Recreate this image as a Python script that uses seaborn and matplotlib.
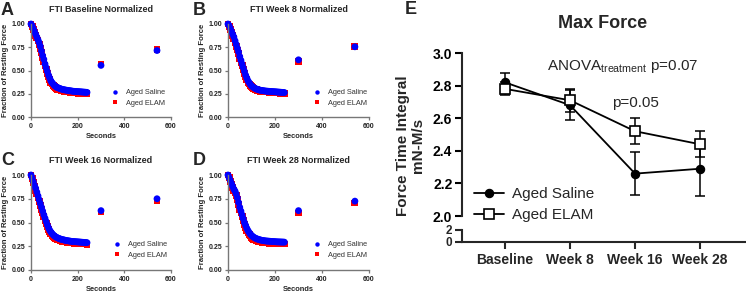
import pandas as pd
import matplotlib
matplotlib.use('Agg')
import matplotlib.pyplot as plt
import seaborn as sns

# ---- normalized FTI curves (panels A-D), sampled every 5 s ----
seconds = list(range(0, 245, 5))
recovery_seconds = [300, 540]
groups = ['Aged Saline', 'Aged ELAM']

saline_base = [1.00, 0.98, 0.95, 0.92, 0.89, 0.86, 0.83, 0.80, 0.76, 0.71, 0.66, 0.62, 0.57, 0.53, 0.49,
               0.45, 0.42, 0.39, 0.37, 0.355, 0.34, 0.33, 0.32, 0.315, 0.31, 0.305, 0.30, 0.297, 0.294,
               0.291, 0.289, 0.287, 0.285, 0.283, 0.281, 0.279, 0.277, 0.276, 0.275, 0.274, 0.273, 0.272,
               0.271, 0.270, 0.269, 0.268, 0.267, 0.266, 0.265]
elam_base = [1.00, 0.97, 0.94, 0.91, 0.88, 0.85, 0.82, 0.78, 0.74, 0.69, 0.64, 0.60, 0.55, 0.51, 0.47,
             0.43, 0.40, 0.375, 0.355, 0.34, 0.325, 0.315, 0.305, 0.30, 0.295, 0.29, 0.286, 0.282, 0.279,
             0.276, 0.274, 0.272, 0.270, 0.268, 0.266, 0.264, 0.262, 0.261, 0.260, 0.259, 0.258, 0.257,
             0.256, 0.255, 0.254, 0.253, 0.252, 0.251, 0.250]
saline_base_rec = [0.555, 0.715]
elam_base_rec = [0.57, 0.725]

saline_w8 = [1.00, 0.98, 0.95, 0.92, 0.89, 0.86, 0.82, 0.78, 0.74, 0.70, 0.65, 0.61, 0.57, 0.53, 0.49,
             0.45, 0.42, 0.39, 0.37, 0.35, 0.335, 0.325, 0.315, 0.308, 0.302, 0.297, 0.293, 0.290, 0.287,
             0.285, 0.283, 0.281, 0.279, 0.278, 0.277, 0.276, 0.275, 0.274, 0.273, 0.272, 0.271, 0.270,
             0.269, 0.268, 0.267, 0.266, 0.265, 0.264, 0.263]
elam_w8 = [1.00, 0.97, 0.94, 0.91, 0.88, 0.84, 0.80, 0.76, 0.72, 0.68, 0.63, 0.59, 0.55, 0.51, 0.47,
           0.43, 0.40, 0.375, 0.355, 0.34, 0.325, 0.315, 0.306, 0.299, 0.293, 0.288, 0.284, 0.281, 0.278,
           0.276, 0.274, 0.272, 0.270, 0.269, 0.268, 0.267, 0.266, 0.265, 0.264, 0.263, 0.262, 0.261,
           0.260, 0.259, 0.258, 0.257, 0.256, 0.255, 0.254]
saline_w8_rec = [0.615, 0.755]
elam_w8_rec = [0.595, 0.755]

saline_w16 = [1.00, 0.97, 0.93, 0.89, 0.86, 0.82, 0.78, 0.74, 0.70, 0.66, 0.62, 0.58, 0.545, 0.51, 0.475,
              0.445, 0.42, 0.40, 0.385, 0.37, 0.36, 0.35, 0.343, 0.337, 0.332, 0.327, 0.323, 0.320, 0.317,
              0.314, 0.311, 0.309, 0.307, 0.305, 0.303, 0.301, 0.300, 0.299, 0.298, 0.297, 0.296, 0.295,
              0.294, 0.293, 0.292, 0.291, 0.290, 0.289, 0.288]
elam_w16 = [1.00, 0.96, 0.92, 0.88, 0.84, 0.80, 0.76, 0.72, 0.68, 0.64, 0.60, 0.56, 0.525, 0.49, 0.455,
            0.425, 0.40, 0.38, 0.365, 0.352, 0.342, 0.334, 0.327, 0.321, 0.316, 0.311, 0.307, 0.304, 0.301,
            0.298, 0.295, 0.293, 0.291, 0.289, 0.287, 0.285, 0.284, 0.283, 0.282, 0.281, 0.280, 0.279,
            0.278, 0.277, 0.276, 0.275, 0.274, 0.273, 0.272]
saline_w16_rec = [0.625, 0.75]
elam_w16_rec = [0.61, 0.73]

saline_w28 = [1.00, 0.97, 0.94, 0.91, 0.88, 0.85, 0.83, 0.80, 0.76, 0.71, 0.66, 0.62, 0.58, 0.54, 0.50,
              0.47, 0.44, 0.415, 0.395, 0.378, 0.364, 0.353, 0.344, 0.337, 0.331, 0.326, 0.322, 0.318, 0.315,
              0.312, 0.310, 0.308, 0.306, 0.305, 0.304, 0.303, 0.302, 0.301, 0.300, 0.299, 0.298, 0.297,
              0.296, 0.296, 0.295, 0.295, 0.294, 0.294, 0.293]
elam_w28 = [1.00, 0.97, 0.93, 0.90, 0.87, 0.84, 0.81, 0.78, 0.74, 0.69, 0.64, 0.60, 0.56, 0.52, 0.48,
            0.45, 0.42, 0.395, 0.375, 0.358, 0.344, 0.333, 0.324, 0.317, 0.311, 0.306, 0.302, 0.298, 0.295,
            0.292, 0.290, 0.288, 0.286, 0.285, 0.284, 0.283, 0.282, 0.281, 0.280, 0.279, 0.278, 0.277,
            0.276, 0.276, 0.275, 0.275, 0.274, 0.274, 0.273]
saline_w28_rec = [0.625, 0.725]
elam_w28_rec = [0.60, 0.705]

# ---- max force FTI (panel E) ----
timepoints = ['Baseline', 'Week 8', 'Week 16', 'Week 28']
force_saline = [2.82, 2.68, 2.26, 2.29]
force_saline_err = [0.06, 0.09, 0.13, 0.17]
force_elam = [2.78, 2.71, 2.52, 2.44]
force_elam_err = [0.04, 0.07, 0.08, 0.08]

W, H = 746, 294
sns.set_style('ticks')
plt.rcParams['font.family'] = ['Liberation Sans', 'DejaVu Sans']
plt.rcParams['mathtext.fontset'] = 'custom'
plt.rcParams['mathtext.rm'] = 'Liberation Sans'
plt.rcParams['mathtext.it'] = 'Liberation Sans:italic'
plt.rcParams['mathtext.bf'] = 'Liberation Sans:bold'

fig = plt.figure(figsize=(W / 100, H / 100), dpi=100)


def px_axes(left, top, width, height):
    return fig.add_axes([left / W, (H - top - height) / H, width / W, height / H])


def normalized_panel(ax, title, saline, elam, saline_rec, elam_rec, leg_x, leg_y):
    # ELAM rows first so the saline points end up on top
    df = pd.DataFrame({
        'Seconds': seconds + recovery_seconds + seconds + recovery_seconds,
        'Fraction': elam + elam_rec + saline + saline_rec,
        'group': ['Aged ELAM'] * (len(seconds) + 2) + ['Aged Saline'] * (len(seconds) + 2),
    })
    sns.scatterplot(data=df, x='Seconds', y='Fraction', hue='group', style='group',
                    hue_order=groups, style_order=groups,
                    palette={'Aged Saline': '#0000ff', 'Aged ELAM': '#ff0000'},
                    markers={'Aged Saline': 'o', 'Aged ELAM': 's'},
                    s=24, linewidth=0, ax=ax, clip_on=False)
    sns.move_legend(ax, 'center left', bbox_to_anchor=(leg_x, leg_y), frameon=False, title=None,
                    fontsize=5.3, handlelength=1, handletextpad=1.0, labelspacing=0.45,
                    borderpad=0, borderaxespad=0, markerscale=0.65, labelcolor='#333333')
    ax.set_xlim(0, 600)
    ax.set_ylim(0, 1)
    ax.set_xticks([0, 200, 400, 600])
    ax.set_yticks([0, 0.25, 0.5, 0.75, 1.0])
    ax.set_yticklabels(['0.00', '0.25', '0.50', '0.75', '1.00'])
    ax.tick_params(labelsize=5, length=2.2, width=0.9, pad=2, colors='#777777', labelcolor='#222222')
    for lab in ax.get_xticklabels() + ax.get_yticklabels():
        lab.set_fontweight('bold')
    for side in ['left', 'bottom']:
        ax.spines[side].set_color('#777777')
        ax.spines[side].set_linewidth(1.0)
    sns.despine(ax=ax)
    ax.set_title(title, fontsize=6.5, fontweight='bold', pad=8.5)
    ax.set_xlabel('Seconds', fontsize=5.4, fontweight='bold')
    ax.set_ylabel('Fraction of Resting Force', fontsize=5.6, fontweight='bold')
    ax.xaxis.set_label_coords(0.5, -0.17)
    ax.yaxis.set_label_coords(-0.157, 0.5)


ax_a = px_axes(31, 24, 140, 93)
ax_b = px_axes(228, 24, 141, 93)
ax_c = px_axes(31, 175, 140, 95)
ax_d = px_axes(228, 175, 141, 95)
normalized_panel(ax_a, 'FTI Baseline Normalized', saline_base, elam_base,
                 saline_base_rec, elam_base_rec, 0.575, 0.205)
normalized_panel(ax_b, 'FTI Week 8 Normalized', saline_w8, elam_w8,
                 saline_w8_rec, elam_w8_rec, 0.605, 0.205)
normalized_panel(ax_c, 'FTI Week 16 Normalized', saline_w16, elam_w16,
                 saline_w16_rec, elam_w16_rec, 0.59, 0.21)
normalized_panel(ax_d, 'FTI Week 28 Normalized', saline_w28, elam_w28,
                 saline_w28_rec, elam_w28_rec, 0.605, 0.21)

# ---- panel E: broken y axis ----
ax_top = px_axes(462, 53, 283, 163)
ax_bot = px_axes(462, 230, 283, 12)

pos = list(range(len(timepoints)))
df_e = pd.DataFrame({
    'pos': pos + pos,
    'force': force_saline + force_elam,
    'group': ['Aged Saline'] * 4 + ['Aged ELAM'] * 4,
})
ax_top.errorbar(pos, force_saline, yerr=force_saline_err, fmt='none', ecolor='black',
                elinewidth=1.1, capsize=3.5, capthick=1.1, zorder=1, clip_on=False)
ax_top.errorbar(pos, force_elam, yerr=force_elam_err, fmt='none', ecolor='black',
                elinewidth=1.1, capsize=3.5, capthick=1.1, zorder=1, clip_on=False)
sns.lineplot(data=df_e[df_e['group'] == 'Aged Saline'], x='pos', y='force', color='black',
             marker='o', markersize=6, markeredgecolor='black', markeredgewidth=0.8,
             linewidth=1.3, label='Aged Saline', ax=ax_top, zorder=3, clip_on=False)
sns.lineplot(data=df_e[df_e['group'] == 'Aged ELAM'], x='pos', y='force', color='black',
             marker='s', markersize=6.5, markerfacecolor='white', markeredgecolor='black',
             markeredgewidth=1.2, linewidth=1.3, label='Aged ELAM', ax=ax_top, zorder=4, clip_on=False)

ax_top.legend(loc='center left', bbox_to_anchor=(0.042, 0.07), frameon=False, fontsize=11,
              handlelength=2.0, handletextpad=0.5, labelspacing=0.45, borderpad=0, borderaxespad=0)

xlim = (-0.66, 3.69)
ax_top.set_xlim(*xlim)
ax_top.set_ylim(2.0, 3.0)
ax_top.set_yticks([2.0, 2.2, 2.4, 2.6, 2.8, 3.0])
ax_top.set_yticklabels(['2.0', '2.2', '2.4', '2.6', '2.8', '3.0'], fontweight='bold')
ax_top.set_xticks([])
ax_top.set_xlabel('')
ax_top.set_ylabel('Force Time Integral\nmN-M/s', fontsize=11, fontweight='bold', linespacing=1.15)
ax_top.yaxis.set_label_coords(-0.13, 0.43)
sns.despine(ax=ax_top, bottom=True)
ax_top.spines['left'].set_linewidth(1.5)
ax_top.tick_params(axis='y', labelsize=10, length=5, width=1.5, pad=2, colors='black')

ax_bot.set_xlim(*xlim)
ax_bot.set_ylim(0, 2)
ax_bot.set_yticks([0, 2])
ax_bot.set_yticklabels(['0', '2'], fontweight='bold')
ax_bot.set_xticks(pos)
ax_bot.set_xticklabels(timepoints, fontweight='bold')
sns.despine(ax=ax_bot)
ax_bot.spines['left'].set_linewidth(1.5)
ax_bot.spines['bottom'].set_linewidth(1.5)
ax_bot.tick_params(axis='y', labelsize=8.5, length=5, width=1.5, pad=2)
ax_bot.tick_params(axis='x', labelsize=10, length=5, width=1.5, pad=3)

ax_top.text(0.65, 2.915, r'ANOVA$_{\mathregular{treatment}}$ p=0.07', fontsize=11, ha='left', va='center')
ax_top.text(2.0, 2.693, 'p=0.05', fontsize=11, ha='center', va='center')
fig.text(603 / W, 1 - 23 / H, 'Max Force', fontsize=13, fontweight='bold', ha='center', va='center')

# panel letters
for letter, x, y in [('A', 1, 15), ('B', 193, 15), ('C', 1, 165), ('D', 193, 165), ('E', 405, 14)]:
    fig.text(x / W, 1 - y / H, letter, fontsize=13, fontweight='bold', ha='left', va='baseline')

fig.savefig('out.png', dpi=100)
